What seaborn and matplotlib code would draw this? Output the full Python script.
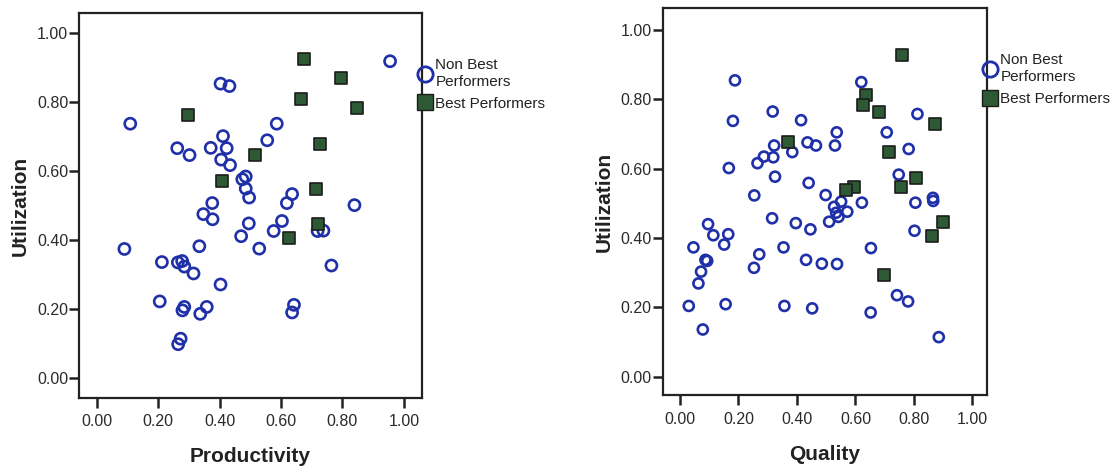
import matplotlib
matplotlib.use("Agg")
import matplotlib.pyplot as plt
from matplotlib.lines import Line2D
import numpy as np
import pandas as pd
import seaborn as sns

# Productivity vs utilization
prod_best = [0.674, 0.794, 0.664, 0.846, 0.297, 0.726, 0.516, 0.409, 0.714, 0.719, 0.626]
util_prod_best = [0.926, 0.870, 0.810, 0.783, 0.762, 0.680, 0.647, 0.572, 0.549, 0.448, 0.406]

prod_other = [0.955, 0.403, 0.432, 0.109, 0.586, 0.411, 0.555, 0.262, 0.371, 0.423,
              0.302, 0.405, 0.434, 0.485, 0.474, 0.485, 0.496, 0.636, 0.619, 0.839,
              0.376, 0.347, 0.377, 0.495, 0.603, 0.470, 0.576, 0.719, 0.738, 0.090,
              0.529, 0.334, 0.212, 0.264, 0.278, 0.285, 0.315, 0.403, 0.764, 0.205,
              0.285, 0.279, 0.358, 0.337, 0.642, 0.636, 0.273, 0.265]
util_prod_other = [0.919, 0.854, 0.847, 0.738, 0.738, 0.702, 0.690, 0.667, 0.668, 0.667,
                   0.647, 0.634, 0.618, 0.585, 0.577, 0.550, 0.524, 0.534, 0.508, 0.502,
                   0.508, 0.476, 0.461, 0.449, 0.456, 0.412, 0.427, 0.427, 0.428, 0.375,
                   0.376, 0.383, 0.337, 0.336, 0.340, 0.324, 0.304, 0.272, 0.327, 0.223,
                   0.207, 0.197, 0.207, 0.187, 0.213, 0.191, 0.115, 0.099]

# Quality vs utilization
qual_best = [0.760, 0.635, 0.627, 0.680, 0.871, 0.368, 0.715, 0.806, 0.755, 0.596,
             0.568, 0.900, 0.863, 0.698]
util_qual_best = [0.929, 0.813, 0.783, 0.765, 0.728, 0.677, 0.647, 0.572, 0.546, 0.548,
                  0.540, 0.445, 0.406, 0.294]

qual_other = [0.188, 0.620, 0.317, 0.181, 0.414, 0.812, 0.536, 0.707, 0.322, 0.436,
              0.465, 0.530, 0.384, 0.782, 0.287, 0.265, 0.319, 0.167, 0.325, 0.748,
              0.440, 0.254, 0.498, 0.551, 0.527, 0.622, 0.805, 0.865, 0.866, 0.534,
              0.572, 0.542, 0.510, 0.096, 0.315, 0.396, 0.446, 0.114, 0.165, 0.046,
              0.151, 0.354, 0.653, 0.802, 0.271, 0.087, 0.093, 0.253, 0.431, 0.485,
              0.537, 0.072, 0.063, 0.030, 0.156, 0.357, 0.452, 0.652, 0.742, 0.780,
              0.078, 0.885]
util_qual_other = [0.855, 0.850, 0.765, 0.738, 0.740, 0.758, 0.705, 0.705, 0.667, 0.676,
                   0.667, 0.667, 0.648, 0.657, 0.635, 0.616, 0.633, 0.602, 0.577, 0.583,
                   0.559, 0.523, 0.524, 0.505, 0.490, 0.502, 0.502, 0.516, 0.507, 0.473,
                   0.476, 0.461, 0.447, 0.440, 0.457, 0.443, 0.425, 0.408, 0.411, 0.373,
                   0.381, 0.373, 0.371, 0.421, 0.353, 0.337, 0.334, 0.314, 0.337, 0.326,
                   0.325, 0.303, 0.269, 0.204, 0.209, 0.204, 0.197, 0.185, 0.235, 0.217,
                   0.136, 0.114]

ticks = [0.0, 0.2, 0.4, 0.6, 0.8, 1.0]
tick_labels = ["0.00", "0.20", "0.40", "0.60", "0.80", "1.00"]
group_labels = ["Non Best\nPerformers", "Best Performers"]

sns.set_theme(style="white")
plt.rcParams["font.family"] = ["Liberation Sans", "DejaVu Sans"]

BLUE = "#2030a8"
GREEN = "#2d5a34"
EDGE = "#1c1c1c"
TXT = "#2a2a2a"

fig = plt.figure(figsize=(11.18, 4.66), dpi=100)
ax1 = fig.add_axes([0.0709, 0.1466, 0.3063, 0.8249])
ax2 = fig.add_axes([0.5928, 0.1524, 0.2898, 0.8298])


def draw(ax, xo, yo, xb, yb, xlabel, circ_size, xlim, ylim):
    sns.scatterplot(x=xo, y=yo, ax=ax, marker="o", s=circ_size,
                    facecolors="none", edgecolor=BLUE, linewidth=1.9, zorder=3)
    sns.scatterplot(x=xb, y=yb, ax=ax, marker="s", s=78,
                    color=GREEN, edgecolor=EDGE, linewidth=1.2, zorder=4)
    ax.set_xlim(*xlim)
    ax.set_ylim(*ylim)
    ax.set_xticks(ticks)
    ax.set_xticklabels(tick_labels)
    ax.set_yticks(ticks)
    ax.set_yticklabels(tick_labels)
    ax.tick_params(axis="both", direction="out", length=7, width=1.8,
                   color="#222222", labelsize=11.5, labelcolor=TXT, pad=1,
                   left=True, bottom=True)
    ax.tick_params(axis="x", pad=5)
    for sp in ax.spines.values():
        sp.set_visible(True)
        sp.set_color("#222222")
        sp.set_linewidth(1.6)
    ax.set_xlabel(xlabel, fontsize=15, fontweight="bold", color="#222222", labelpad=13)
    ax.set_ylabel("Utilization", fontsize=15, fontweight="bold", color="#222222", labelpad=5)

    handles = [
        Line2D([], [], marker="o", linestyle="none", markersize=11,
               markerfacecolor="none", markeredgecolor=BLUE, markeredgewidth=2),
        Line2D([], [], marker="s", linestyle="none", markersize=11,
               markerfacecolor=GREEN, markeredgecolor=EDGE, markeredgewidth=1),
    ]
    leg = ax.legend(handles, group_labels, loc="upper left",
                    bbox_to_anchor=(0.995, 0.884), frameon=False, fontsize=11,
                    handlelength=0.7, handletextpad=0.3, labelspacing=0.5,
                    borderpad=0, borderaxespad=0)
    for t in leg.get_texts():
        t.set_color("#222222")
        t.set_linespacing(1.3)


draw(ax1, prod_other, util_prod_other, prod_best, util_prod_best, "Productivity",
     64, (-0.057, 1.058), (-0.056, 1.058))
draw(ax2, qual_other, util_qual_other, qual_best, util_qual_best, "Quality",
     52, (-0.059, 1.049), (-0.053, 1.063))

fig.savefig("out.png", dpi=100, facecolor="white")
